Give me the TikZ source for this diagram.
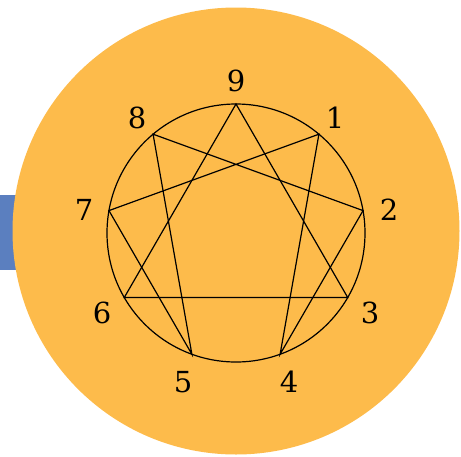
\documentclass[tikz,border=0pt]{standalone}
\usepackage{fontspec}
\setmainfont{DejaVu Serif}
\definecolor{orangebg}{HTML}{FDBB4B}
\definecolor{bluebar}{HTML}{5B7FBF}
\begin{document}
\begin{tikzpicture}[x=1pt,y=-1pt,
  lbl/.style={font=\fontsize{29}{29}\selectfont, text=black, inner sep=0pt, anchor=center},
  edge/.style={draw=black, line width=1.2pt}]
\useasboundingbox (0,0) rectangle (461,456);
\fill[bluebar] (0,195) rectangle (40,270);
\fill[orangebg] (236,231) circle (223.5);
\draw[black, line width=1.2pt] (236,233) circle (129);
\foreach \k in {0,...,8} {
  \coordinate (p\k) at ({236+129*cos(90-40*\k)},{233-129*sin(90-40*\k)});
}
\draw[edge] (p0) -- (p3) -- (p6) -- cycle;
\draw[edge] (p1) -- (p4) -- (p2) -- (p8) -- (p5) -- (p7) -- cycle;
\node[lbl] (l9) at (236,81) {9};
\node[lbl] (l1) at (335,118) {1};
\node[lbl] (l2) at (389,210) {2};
\node[lbl] (l3) at (370,313) {3};
\node[lbl] (l4) at (289,382) {4};
\node[lbl] (l5) at (183,382) {5};
\node[lbl] (l6) at (102,313) {6};
\node[lbl] (l7) at (84,210) {7};
\node[lbl] (l8) at (137,118) {8};
\end{tikzpicture}
\end{document}
